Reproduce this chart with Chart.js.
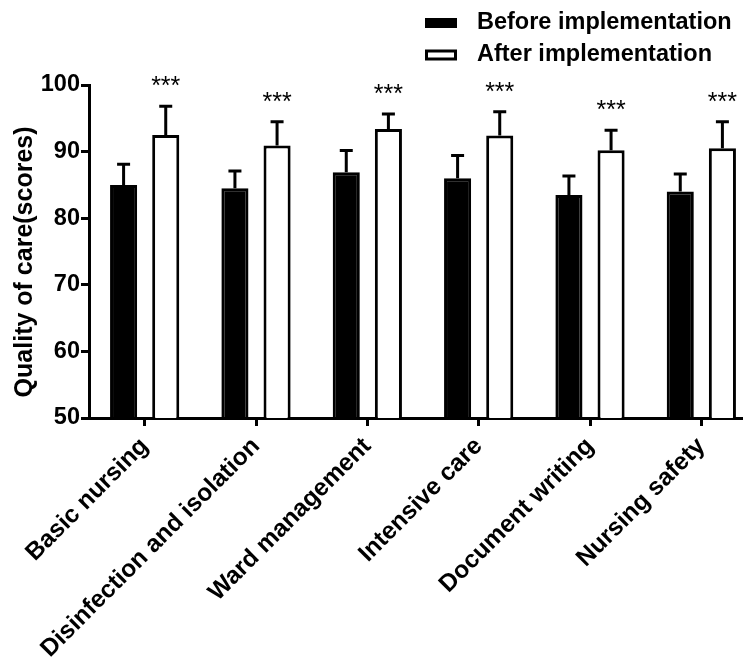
<!DOCTYPE html>
<html><head><meta charset="utf-8">
<script src="https://cdn.jsdelivr.net/npm/chart.js@4/dist/chart.umd.min.js"></script>
<style>
html,body{margin:0;padding:0;overflow:hidden;background:#fff;width:743px;height:657px}
#wrap{position:absolute;left:0;top:0;width:760px;height:657px}
</style>
</head><body><div id="wrap"><canvas id="c" width="760" height="657" style="width:760px;height:657px"></canvas></div>
<script>
const categories = ['Basic nursing', 'Disinfection and isolation', 'Ward management', 'Intensive care', 'Document writing', 'Nursing safety'];
const beforeMean = [85.0, 84.5, 86.9, 86.0, 83.5, 84.0];
const beforeSD   = [3.1, 2.6, 3.25, 3.4, 2.85, 2.65];
const afterMean  = [92.5, 90.9, 93.4, 92.4, 90.2, 90.5];
const afterSD    = [4.3, 3.6, 2.25, 3.6, 3.0, 4.0];
const sigLabels  = ['***', '***', '***', '***', '***', '***'];
const seriesNames = ['Before implementation', 'After implementation'];
const yTicks = [50, 60, 70, 80, 90, 100];
const yTitle = 'Quality of care(scores)';

const FONT = '"Liberation Sans", Arial, sans-serif';

const errorBarPlugin = {
  id: 'errorBars',
  afterDatasetsDraw(chart) {
    const ctx = chart.ctx, y = chart.scales.y;
    ctx.save();
    ctx.strokeStyle = '#000';
    ctx.lineWidth = 3;
    ctx.lineCap = 'butt';
    chart.data.datasets.forEach((ds, di) => {
      const meta = chart.getDatasetMeta(di);
      meta.data.forEach((bar, i) => {
        const top = y.getPixelForValue(ds.data[i] + ds.sd[i]);
        ctx.beginPath();
        ctx.moveTo(bar.x, bar.y);
        ctx.lineTo(bar.x, top);
        ctx.moveTo(bar.x - 6.5, top);
        ctx.lineTo(bar.x + 6.5, top);
        ctx.stroke();
        if (ds.sig) {
          ctx.fillStyle = '#000';
          ctx.font = '25px ' + FONT;
          ctx.textAlign = 'center';
          ctx.textBaseline = 'alphabetic';
          ctx.fillText(ds.sig[i], bar.x, top - 12);
        }
      });
    });
    ctx.restore();
  }
};

const legendPlugin = {
  id: 'customLegend',
  afterDraw(chart) {
    const ctx = chart.ctx;
    ctx.save();
    const rows = [23, 55];
    chart.data.datasets.forEach((ds, di) => {
      const cy = rows[di];
      if (di === 0) {
        ctx.fillStyle = ds.backgroundColor;
        ctx.fillRect(425, cy - 5, 32, 10);
      } else {
        ctx.fillStyle = ds.backgroundColor;
        ctx.fillRect(425, cy - 5.5, 32, 11);
        ctx.strokeStyle = ds.borderColor;
        ctx.lineWidth = 3;
        ctx.strokeRect(426.5, cy - 4, 29, 8);
      }
      ctx.fillStyle = '#000';
      ctx.font = 'bold 23.5px ' + FONT;
      ctx.textAlign = 'left';
      ctx.textBaseline = 'middle';
      ctx.fillText(ds.label, 477, cy);
    });
    ctx.restore();
  }
};

const tickFont = { family: FONT, size: 23.5, weight: 'bold' };
const xFont = { family: FONT, size: 24.5, weight: 'bold' };

new Chart(document.getElementById('c'), {
  type: 'bar',
  data: {
    labels: categories,
    datasets: [
      { label: seriesNames[0], data: beforeMean, sd: beforeSD,
        backgroundColor: '#000', borderColor: '#000', borderWidth: 3, borderSkipped: false },
      { label: seriesNames[1], data: afterMean, sd: afterSD, sig: sigLabels,
        backgroundColor: '#fff', borderColor: '#000', borderWidth: 3, borderSkipped: false }
    ]
  },
  options: {
    responsive: false,
    animation: false,
    devicePixelRatio: 1,
    layout: { padding: { top: 85, left: 0, right: 3, bottom: 0 } },
    datasets: { bar: { barPercentage: 0.643, categoryPercentage: 0.757 } },
    plugins: { legend: { display: false }, tooltip: { enabled: false } },
    scales: {
      x: {
        offset: true,
        grid: { display: true, drawOnChartArea: false, drawTicks: true, tickLength: 8, color: '#000', lineWidth: 3, offset: false },
        border: { display: true, color: '#000', width: 3 },
        ticks: { color: '#000', font: xFont, minRotation: 45, maxRotation: 45, autoSkip: false, padding: 6 },
        afterFit: s => { s.height = 239; }
      },
      y: {
        min: 50, max: 100,
        afterBuildTicks: s => { s.ticks = yTicks.map(v => ({ value: v })); },
        ticks: { color: '#000', font: tickFont, padding: 1 },
        grid: { display: true, drawOnChartArea: false, drawTicks: true, tickLength: 8, color: '#000', lineWidth: 3 },
        border: { display: true, color: '#000', width: 3 },
        title: { display: true, text: yTitle + '   ', color: '#000', font: { family: FONT, size: 25, weight: 'bold', lineHeight: 1.2 }, padding: { top: 10, bottom: 0 } },
        afterFit: s => { s.width = 89; }
      }
    }
  },
  plugins: [errorBarPlugin, legendPlugin]
});
</script>
</body></html>
